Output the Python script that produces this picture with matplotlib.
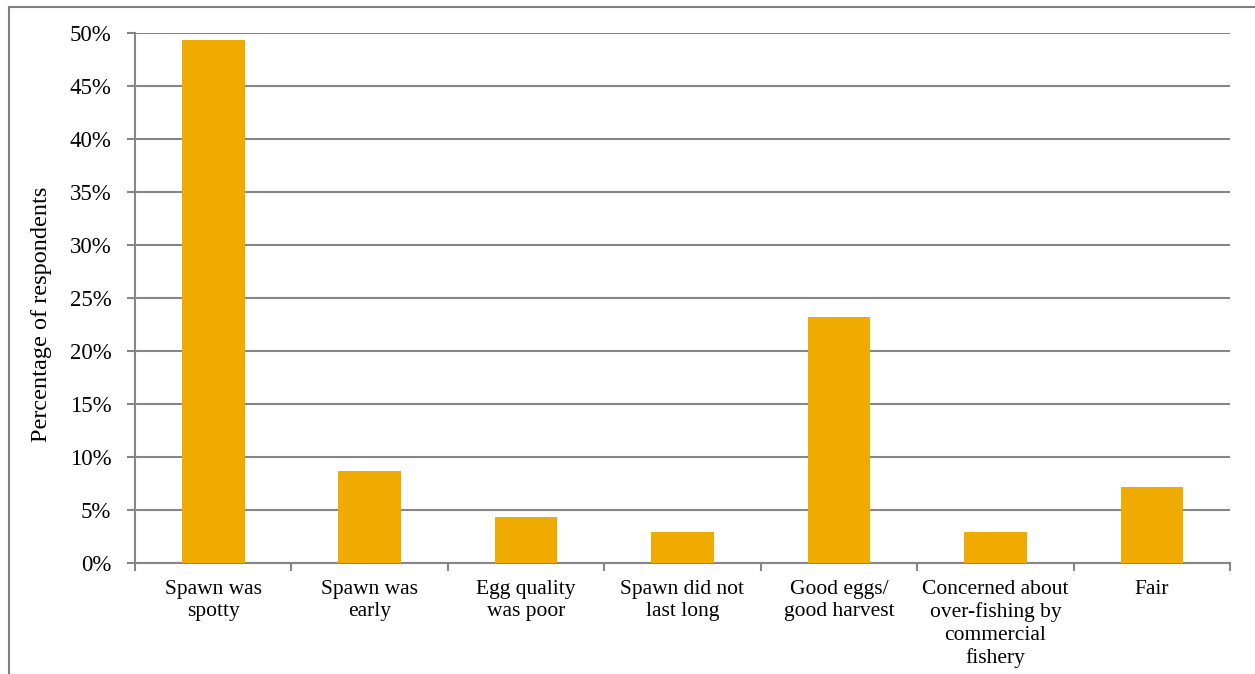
import matplotlib
matplotlib.use("Agg")
import matplotlib.pyplot as plt
from matplotlib.lines import Line2D
from matplotlib.ticker import FuncFormatter, FixedLocator
import numpy as np

categories = ["Spawn was\nspotty", "Spawn was\nearly", "Egg quality\nwas poor",
              "Spawn did not\nlast long", "Good eggs/\ngood harvest",
              "Concerned about\nover-fishing by\ncommercial\nfishery", "Fair"]
values = [49.3, 8.7, 4.3, 2.9, 23.2, 2.9, 7.2]
yticks = [0, 5, 10, 15, 20, 25, 30, 35, 40, 45, 50]

plt.rcParams['font.family'] = ['Liberation Serif', 'DejaVu Serif']

fig = plt.figure(figsize=(12.55, 6.74), dpi=100)
ax = fig.add_axes([135/1255, 1-563/674, (1230-135)/1255, (563-33)/674])

grid_c = "#868686"
x = np.arange(len(categories))
ax.bar(x, values, width=0.4, color="#F0AB00", zorder=3)

ax.set_xlim(-0.5, len(categories) - 0.5)
ax.set_ylim(0, 50)
ax.yaxis.set_major_locator(FixedLocator(yticks))
ax.yaxis.set_major_formatter(FuncFormatter(lambda v, p: f"{int(v)}%"))
ax.grid(axis='y', color=grid_c, linewidth=1.5, zorder=0)

ax.set_xticks(x)
ax.set_xticklabels(categories, fontsize=15.5, linespacing=1.25)
ax.tick_params(axis='x', length=0, pad=12)
ax.xaxis.set_minor_locator(FixedLocator(np.arange(-0.5, len(categories), 1.0)))
ax.tick_params(axis='x', which='minor', length=6, width=1.5, color=grid_c)
ax.tick_params(axis='y', length=6, width=1.5, color=grid_c, labelsize=16.5, pad=11)

for s in ['top', 'right']:
    ax.spines[s].set_visible(False)
for s in ['left', 'bottom']:
    ax.spines[s].set_color(grid_c)
    ax.spines[s].set_linewidth(1.5)

ax.set_ylabel("Percentage of respondents", fontsize=17.5)
ax.yaxis.set_label_coords((52-135)/1095, (563-314)/530)

# outer chart border (left and top visible)
fig.add_artist(Line2D([9/1255, 9/1255], [0, 1-7/674], transform=fig.transFigure,
                      color="#808080", linewidth=1.5))
fig.add_artist(Line2D([9/1255, 1], [1-7/674, 1-7/674], transform=fig.transFigure,
                      color="#808080", linewidth=1.5))

fig.savefig("out.png", dpi=100)
